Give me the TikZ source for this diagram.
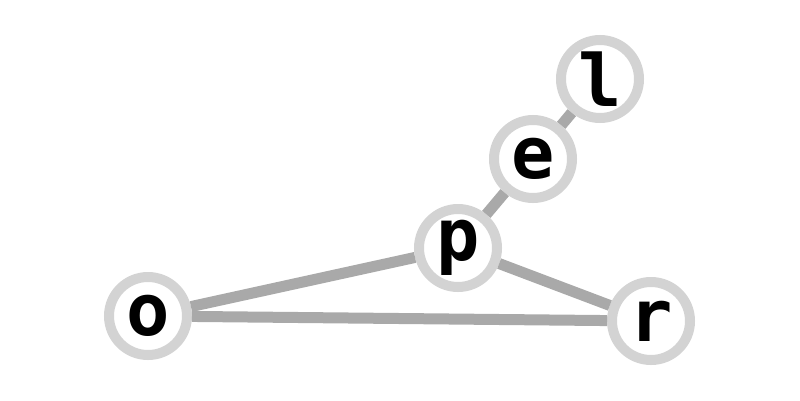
\documentclass[tikz,border=0pt]{standalone}
\usepackage{fontspec}
\newfontfamily\nodefont{DejaVu Sans Mono}
\definecolor{edgegray}{HTML}{A9A9A9}
\definecolor{ringgray}{HTML}{D3D3D3}
\begin{document}
\begin{tikzpicture}[x=1pt,y=-1pt,
  vert/.style={circle, fill=white, draw=ringgray, line width=10pt, minimum size=78pt, inner sep=0pt,
    font=\nodefont\bfseries\fontsize{72}{72}\selectfont},
  link/.style={draw=edgegray, line width=11pt}]
\useasboundingbox (0,0) rectangle (800,400);
\node[vert] (l) at (600,79) {l};
\node[vert] (e) at (533,159) {e};
\node[vert] (p) at (458,248) {p};
\node[vert] (o) at (148,316) {o};
\node[vert] (r) at (651,321) {r};
\path[link] (l) -- (e);
\path[link] (e) -- (p);
\path[link] (p) -- (o);
\path[link] (p) -- (r);
\path[link] (o) -- (r);
\end{tikzpicture}
\end{document}
